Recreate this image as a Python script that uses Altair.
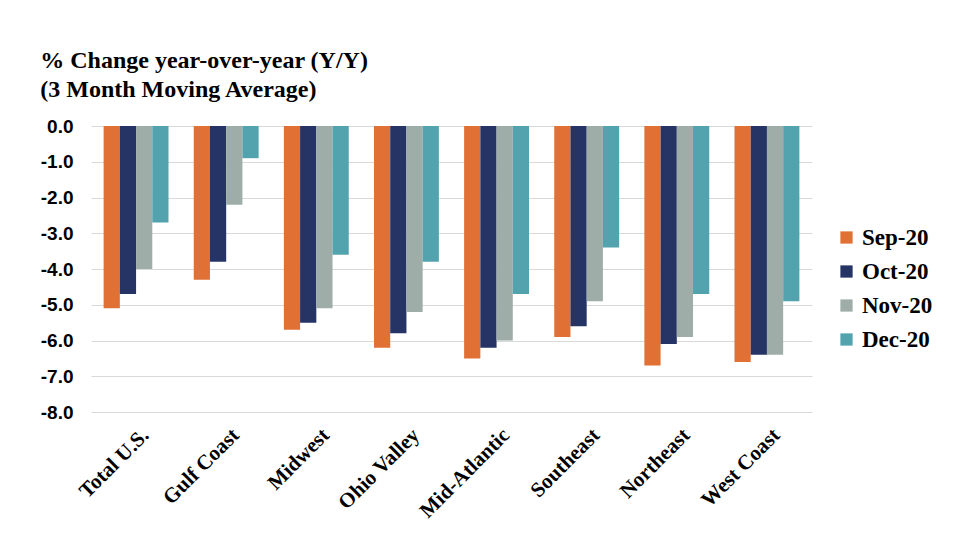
import altair as alt
import pandas as pd

regions = ["Total U.S.", "Gulf Coast", "Midwest", "Ohio Valley", "Mid-Atlantic",
           "Southeast", "Northeast", "West Coast"]
months = ["Sep-20", "Oct-20", "Nov-20", "Dec-20"]
sep20 = [-5.1, -4.3, -5.7, -6.2, -6.5, -5.9, -6.7, -6.6]
oct20 = [-4.7, -3.8, -5.5, -5.8, -6.2, -5.6, -6.1, -6.4]
nov20 = [-4.0, -2.2, -5.1, -5.2, -6.0, -4.9, -5.9, -6.4]
dec20 = [-2.7, -0.9, -3.6, -3.8, -4.7, -3.4, -4.7, -4.9]
colors = ["#E07034", "#253465", "#9EADA8", "#52A3AE"]
y_ticks = [0, -1, -2, -3, -4, -5, -6, -7, -8]

rows = []
for m, series in zip(months, [sep20, oct20, nov20, dec20]):
    for r, v in zip(regions, series):
        rows.append({"Region": r, "Month": m, "Value": v})
df = pd.DataFrame(rows)

chart = alt.Chart(df).mark_bar().encode(
    x=alt.X("Region:N", sort=regions, title=None,
            scale=alt.Scale(paddingInner=0.28, paddingOuter=0.14),
            axis=alt.Axis(labelAngle=-45, labelFont="Liberation Serif",
                          labelFontWeight="bold", labelFontSize=21,
                          labelColor="black", ticks=False, domain=False,
                          labelPadding=12, labelOffset=2)),
    xOffset=alt.XOffset("Month:N", sort=months),
    y=alt.Y("Value:Q", title=None,
            scale=alt.Scale(domain=[-8, 0], nice=False),
            axis=alt.Axis(values=y_ticks,
                          labelExpr="replace(format(datum.value, '.1f'), '\u2212', '-')",
                          labelFont="Liberation Sans",
                          labelFontWeight="bold", labelFontSize=19,
                          labelColor="black", ticks=False, domain=False,
                          gridColor="#D9D9D9", labelPadding=18)),
    color=alt.Color("Month:N", sort=months,
                    scale=alt.Scale(domain=months, range=colors),
                    legend=alt.Legend(title=None, orient="none", legendX=744,
                                      legendY=100, symbolType="square",
                                      symbolSize=150, symbolStrokeWidth=0,
                                      labelFont="Liberation Serif",
                                      labelFontWeight="bold", labelFontSize=23,
                                      labelColor="black", rowPadding=10,
                                      labelOffset=4)),
).properties(
    width=721, height=286,
    background="white",
    padding={"left": 32, "top": 41, "right": 5, "bottom": 5},
    title=alt.TitleParams(
        text=["% Change year-over-year (Y/Y)", "(3 Month Moving Average)"],
        anchor="start", frame="bounds", font="Liberation Serif", fontSize=24,
        fontWeight="bold", color="black", offset=15, lineHeight=29),
).configure_view(stroke=None)

chart.save("out.html", embed_options={"renderer": "svg", "actions": False})
